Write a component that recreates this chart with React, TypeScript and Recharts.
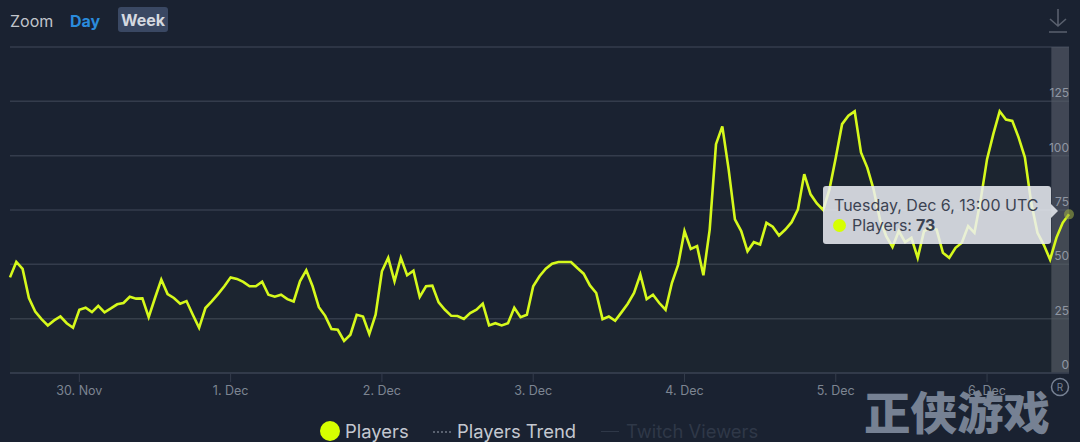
import React from "react";
import { ComposedChart, Area, XAxis, YAxis, CartesianGrid, ReferenceArea, Tooltip, Legend } from "recharts";

const players = [
  44, 51.1, 47.9, 34.5, 28.3, 24.8, 21.9, 24.2, 26, 22.9, 20.8, 29.1, 30, 28, 30.9, 27.9, 29.7, 31.6, 32.2, 35.1, 34.2, 34.3, 25.7, 34.5,
  43, 36.3, 34.5, 31.9, 33.1, 26.8, 20.8, 29.9, 33, 36.3, 39.9, 44, 43.3, 41.9, 39.9, 39.9, 42, 36, 35.1, 36, 34, 32.9, 42.2, 47.3,
  39.9, 30.3, 26.3, 20.2, 19.9, 14.8, 17.6, 26.8, 26, 17.9, 26.8, 46.8, 53, 42.2, 53, 45, 47.1, 35, 39.9, 40.2, 32.5, 29.1, 26.3, 26.2,
  24.9, 27.6, 29.1, 31.9, 21.9, 22.9, 21.9, 22.9, 30, 25.7, 26.8, 39.9, 44.5, 48, 50.3, 51.1, 51.1, 51.1, 48.3, 45.7, 40.3, 36.8, 24.8, 26,
  24, 27.9, 31.9, 36.8, 45.3, 34, 36, 32.2, 29.1, 41.4, 49.9, 65.3, 57.1, 58.4, 45, 66, 105.3, 113.5, 93.8, 70.7, 65.3, 56, 60.2, 59.1,
  69.1, 67.3, 63.3, 66, 69.4, 75.3, 91.5, 82.2, 78, 75, 84.5, 99, 114.5, 118.4, 120.4, 101.5, 94.5, 84.5, 70.7, 63, 58, 65.3, 60.2, 62.2,
  53, 65.3, 66.8, 66, 55.3, 53, 57.6, 59.9, 67.6, 64.5, 79.9, 98.4, 110, 120.4, 116.6, 116, 108.4, 99.2, 78.4, 64.5, 59, 52.2, 62.2, 69.1,
  73,
];
const dayTickHours = [11, 35, 59, 83, 107, 131, 155];
const dayTickLabels = ["30. Nov", "1. Dec", "2. Dec", "3. Dec", "4. Dec", "5. Dec", "6. Dec"];
const yTicks = [0, 25, 50, 75, 100, 125, 150];
const navigatorStartHour = 165.2;
const tooltipTitle = "Tuesday, Dec 6, 13:00 UTC";
const legendItems = ["Players", "Players Trend", "Twitch Viewers"];

const chartData = players.map((value, hour) => ({ hour, players: value }));

const BG = "#1a2231";
const LIME = "#d6f91c";
const FONT = "Inter, 'Open Sans', sans-serif";

const YTick = (props: any) => {
  const { y, payload } = props;
  if (payload.value === 150) return null;
  return (
    <text x={1069} y={y - 4} textAnchor="end" fill="#8f96a2" fontSize={12} fontFamily={FONT}>
      {payload.value}
    </text>
  );
};

const XTick = (props: any) => {
  const { x, y, payload } = props;
  const i = dayTickHours.indexOf(payload.value);
  return (
    <text x={x} y={y + 11} textAnchor="middle" fill="#7d8592" fontSize={12.5} fontFamily={FONT}>
      {dayTickLabels[i]}
    </text>
  );
};

const TipContent = () => (
  <div
    style={{
      position: "relative",
      width: 228,
      height: 58,
      boxSizing: "border-box",
      background: "rgba(236,239,244,0.85)",
      borderRadius: 3,
      padding: "4px 0 0 11px",
      fontFamily: FONT,
      color: "#3c4352",
      fontSize: 16,
      lineHeight: "20px",
      whiteSpace: "nowrap",
    }}
  >
    <div style={{ position: "absolute", right: -7, top: 18, width: 0, height: 0, borderTop: "7px solid transparent", borderBottom: "7px solid transparent", borderLeft: "7px solid rgba(236,239,244,0.85)" }} />
    <div style={{ marginTop: 5 }}>{tooltipTitle}</div>
    <div style={{ display: "flex", alignItems: "center" }}>
      <span style={{ display: "inline-block", width: 13, height: 13, borderRadius: "50%", background: "#d6ff00", marginRight: 6, marginLeft: -1 }} />
      <span>Players: </span>
      <b style={{ marginLeft: 4 }}>73</b>
    </div>
  </div>
);

const LegendContent = () => (
  <div style={{ position: "relative", width: 1080, height: 30, fontFamily: FONT, fontSize: 18.4, whiteSpace: "nowrap" }}>
    <span style={{ position: "absolute", left: 320, top: 5, width: 20, height: 20, borderRadius: "50%", background: "#d6ff00" }} />
    <span style={{ position: "absolute", left: 345, top: 4, color: "#c4c8d0" }}>{legendItems[0]}</span>
    <span style={{ position: "absolute", left: 433, top: 15, width: 18, borderTop: "2px dotted #5a6270" }} />
    <span style={{ position: "absolute", left: 457, top: 4, color: "#c4c8d0" }}>{legendItems[1]}</span>
    <span style={{ position: "absolute", left: 601, top: 15, width: 18, borderTop: "1px solid #2f3848" }} />
    <span style={{ position: "absolute", left: 626, top: 4, color: "#2f3848" }}>{legendItems[2]}</span>
  </div>
);

export default function App() {
  return (
    <div style={{ position: "absolute", left: 0, top: 0, width: 1080, height: 442, background: BG, overflow: "hidden" }}>
      <ComposedChart width={1080} height={442} data={chartData} margin={{ top: 47, right: 11, bottom: 9, left: 10 }}>
        <CartesianGrid vertical={false} stroke="#343c4c" strokeWidth={1.5} />
        <ReferenceArea x1={navigatorStartHour} x2={168} y1={0} y2={150} fill="#565c69" fillOpacity={0.65} stroke="none" ifOverflow="hidden" />
        <XAxis
          dataKey="hour"
          type="number"
          domain={[0, 168]}
          ticks={dayTickHours}
          height={30}
          tick={<XTick />}
          tickSize={9}
          stroke="#343c4c"
          tickLine={{ stroke: "#343c4c" }}
          axisLine={{ stroke: "#343c4c", strokeWidth: 1.5 }}
        />
        <YAxis orientation="right" mirror width={40} domain={[0, 150]} ticks={yTicks} tick={<YTick />} axisLine={false} tickLine={false} interval={0} />
        <Area
          dataKey="players"
          type="linear"
          stroke={LIME}
          strokeWidth={2.6}
          fill="#d6ff00"
          fillOpacity={0.015}
          isAnimationActive={false}
          dot={false}
          activeDot={{ r: 5, fill: "#9aa844", fillOpacity: 0.6, stroke: "none" }}
        />
        <Tooltip
          active
          defaultIndex={168}
          position={{ x: 823, y: 186 }}
          cursor={false}
          content={<TipContent />}
          isAnimationActive={false}
          wrapperStyle={{ outline: "none" }}
        />
        <Legend content={<LegendContent />} wrapperStyle={{ left: 0, top: 416, width: 1080, height: 30 }} />
        <g>
          <text x={864} y={430} fontFamily="'Noto Sans CJK SC'" fontWeight={900} fontSize={45} fill="#768193" textLength={186} lengthAdjust="spacingAndGlyphs">
            正侠游戏
          </text>
          <circle cx={1060} cy={387} r={8.5} fill="none" stroke="#768193" strokeWidth={1.5} />
          <text x={1060} y={391} textAnchor="middle" fontFamily={FONT} fontSize={10} fill="#768193">R</text>
        </g>
      </ComposedChart>

      <div style={{ position: "absolute", left: 10, top: 11, fontFamily: FONT, fontSize: 16, color: "#c2c5cb" }}>Zoom</div>
      <div style={{ position: "absolute", left: 70, top: 11, fontFamily: FONT, fontSize: 16, fontWeight: 700, color: "#2a8bdc" }}>Day</div>
      <div style={{ position: "absolute", left: 118, top: 7, width: 50, height: 25, background: "#3a4863", borderRadius: 3, textAlign: "center", lineHeight: "26px", fontFamily: FONT, fontSize: 16, fontWeight: 700, color: "#d5d9e0" }}>Week</div>
      <svg style={{ position: "absolute", left: 1046, top: 8 }} width={24} height={26}>
        <path d="M12 1V17M4 11L12 18L20 11M3 24H21" fill="none" stroke="#59606e" strokeWidth={1.6} />
      </svg>
    </div>
  );
}
